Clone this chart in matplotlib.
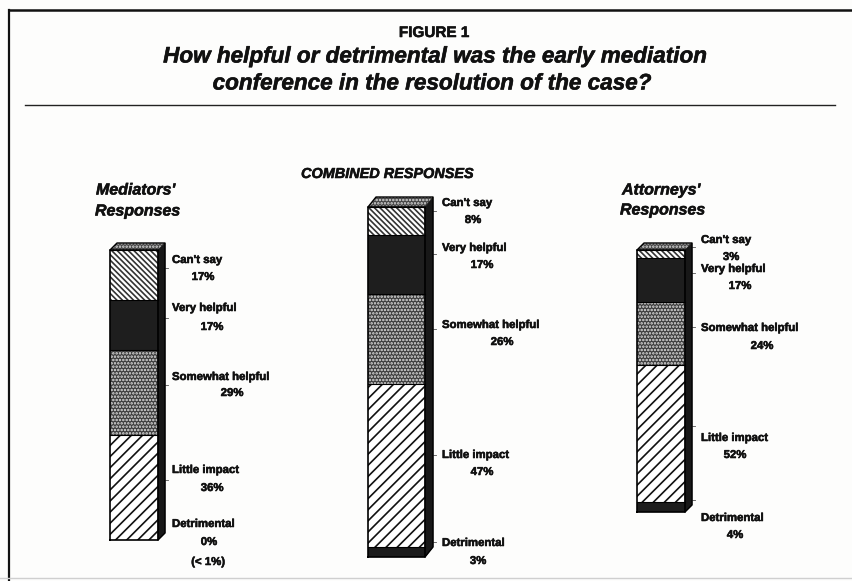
import matplotlib
matplotlib.use("Agg")
import matplotlib.pyplot as plt
import matplotlib.patheffects as pe

W, H = 853, 581

plt.rcParams['font.family'] = ['Liberation Sans', 'DejaVu Sans']
plt.rcParams['hatch.linewidth'] = 1.2

# data
categories = ["Detrimental", "Little impact", "Somewhat helpful", "Very helpful", "Can't say"]
mediators = [0, 36, 29, 17, 17]
combined = [3, 47, 26, 17, 8]
attorneys = [4, 52, 24, 17, 3]

# segment styles, bottom to top
faces = ['#1c1c1c', 'white', '#3c3c3c', '#1e1e1e', 'white']
hatches = [None, '///', '.....', None, '\\\\\\\\\\\\']
hatch_cols = ['black', '#111111', '#e2e2e2', 'black', '#333333']

fig = plt.figure(figsize=(W / 100, H / 100), dpi=100, facecolor='#fdfdfc')


def px(x, y):
    return x / W, 1 - y / H


def txt(x, y, s, size=8.2, ha='left', style='normal'):
    t = fig.text(*px(x, y), s, fontsize=size, ha=ha, va='center', fontweight='bold',
                 fontstyle=style, color='#111111')
    t.set_path_effects([pe.withStroke(linewidth=0.4, foreground='#111111')])


def stack(values, left, right, top, bottom, dx, dy):
    # one axes per column, y axis is percent of responses
    ax = fig.add_axes([left / W, 1 - bottom / H, (right - left) / W, (bottom - top) / H])
    total = sum(values)
    ax.set_xlim(0, right - left)
    ax.set_ylim(0, total)
    ax.axis('off')
    w = right - left
    dy_val = dy * total / (bottom - top)
    base = 0
    for v, f, h, c in zip(values, faces, hatches, hatch_cols):
        if v > 0:
            ax.bar(0, v, bottom=base, width=w, align='edge', color=f, hatch=h,
                   edgecolor=c, linewidth=0, clip_on=False)
            ax.plot([0, w], [base + v, base + v], color='black', lw=0.8, clip_on=False)
            # small leader tick on the side panel
            ax.plot([w + dx, w + dx + 3], [base + v / 2 + dy_val] * 2, color='#555555', lw=0.6, clip_on=False)
        base += v
    # fake 3d: top and side panels
    ax.fill([0, dx, w + dx, w], [total, total + dy_val, total + dy_val, total],
            facecolor='#444444', hatch='.....', edgecolor='#dddddd', linewidth=0, clip_on=False)
    ax.fill([w, w + dx, w + dx, w], [0, dy_val, total + dy_val, total],
            facecolor='#181818', edgecolor='#181818', linewidth=0.5, clip_on=False)
    ax.plot([0, 0, w, w, 0], [0, total, total, 0, 0], color='black', lw=1.2, clip_on=False)
    ax.plot([0, dx, w + dx, w + dx, w], [total, total + dy_val, total + dy_val, dy_val, 0],
            color='black', lw=1, clip_on=False)


stack(mediators, 110, 158, 250, 540, 7, 7)
stack(combined, 368, 425, 207, 557, 8, 10)
stack(attorneys, 637, 685, 250, 512, 7, 7)

# frame and title rule
frame = fig.add_axes([0, 0, 1, 1], facecolor='none')
frame.set_xlim(0, W)
frame.set_ylim(H, 0)
frame.axis('off')
frame.plot([9, 9], [581, 10], color='#111111', lw=1.6)
frame.plot([9, 853], [10, 10], color='#111111', lw=1.8)
frame.plot([25, 835], [105, 105], color='#222222', lw=1.0)
frame.plot([0, 853], [578, 578], color='#cfcfcf', lw=1.0)

txt(434, 33, "FIGURE 1", size=11, ha='center')
txt(435, 57, "How helpful or detrimental was the early mediation", size=16.2, ha='center', style='italic')
txt(432, 84, "conference in the resolution of the case?", size=16.2, ha='center', style='italic')

txt(96, 190, "Mediators'", size=11.5, style='italic')
txt(95, 211, "Responses", size=11.5, style='italic')
txt(387, 174, "COMBINED RESPONSES", size=10.4, ha='center', style='italic')
txt(622, 190, "Attorneys'", size=11.5, style='italic')
txt(620, 210, "Responses", size=11.5, style='italic')

# label layout: x of name, name y, pct x centre, pct y (same order as the data, top segment last)
layouts = [
    (mediators, 172, [(524, 209, 542), (470, 212, 488), (377, 232, 393), (308, 212, 327), (260, 203, 277)]),
    (combined, 442, [(543, 478, 561), (455, 482, 472), (325, 502, 342), (248, 482, 265), (203, 473, 220)]),
    (attorneys, 701, [(518, 735, 535), (438, 735, 455), (328, 762, 346), (269, 740, 286), (240, 731, 257)]),
]
for vals, x, rows in layouts:
    for name, v, (ny, cx, py) in zip(categories, vals, rows):
        txt(x, ny, name)
        txt(cx, py, f"{v}%", ha='center')
txt(208, 562, "(< 1%)", ha='center')

fig.savefig("out.png", dpi=100, facecolor=fig.get_facecolor())
